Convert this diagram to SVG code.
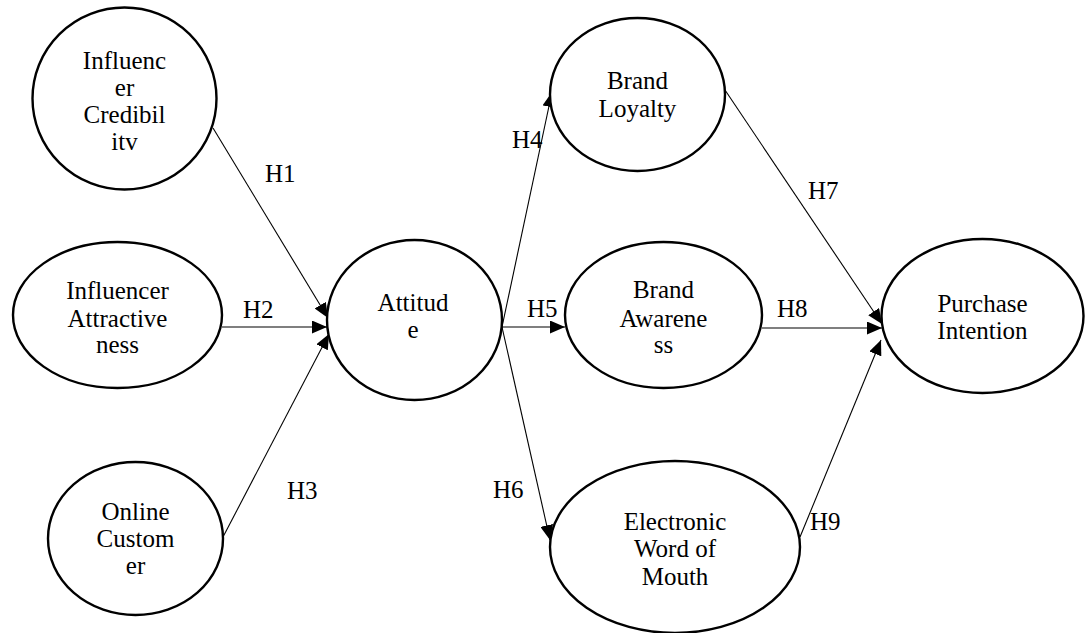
<svg xmlns="http://www.w3.org/2000/svg" width="1091" height="633" viewBox="0 0 1091 633" font-family="'Liberation Serif', 'Times New Roman', 'DejaVu Serif', serif">
<style>
.node ellipse{fill:#fff;stroke:#000;stroke-width:2.4}
text{font-family:'Liberation Serif','Times New Roman','DejaVu Serif',serif;font-size:25px;fill:#000}
.node text{text-anchor:middle}
.edges line{stroke:#000;stroke-width:1.1;marker-end:url(#ah)}
</style>
<defs>
<marker id="ah" markerUnits="userSpaceOnUse" markerWidth="15" markerHeight="13" refX="15" refY="6.5" orient="auto">
<path d="M0,0 L15,6.5 L0,13 z" fill="#000"/>
</marker>
</defs>
<rect width="1091" height="633" fill="#fff"/>
<g class="edges">
<line x1="213" y1="128" x2="328" y2="318"/>
<line x1="222" y1="327" x2="327" y2="327"/>
<line x1="223" y1="537" x2="329" y2="334"/>
<line x1="502" y1="327" x2="552" y2="92"/>
<line x1="502" y1="327" x2="565" y2="327"/>
<line x1="502" y1="327" x2="550" y2="540"/>
<line x1="725" y1="90" x2="882" y2="324"/>
<line x1="762" y1="328" x2="882" y2="328"/>
<line x1="800" y1="537" x2="881" y2="340"/>
</g>
<g class="labels">
<text x="265" y="182">H1</text>
<text x="243" y="318">H2</text>
<text x="287" y="499">H3</text>
<text x="512" y="148">H4</text>
<text x="527" y="317">H5</text>
<text x="493" y="498">H6</text>
<text x="808" y="199">H7</text>
<text x="777" y="317">H8</text>
<text x="810" y="530">H9</text>
</g>
<g id="influencer-credibility" class="node">
<ellipse cx="124.5" cy="98.5" rx="92" ry="91"/>
<text x="124.5" y="69">Influenc</text>
<text x="124.5" y="96">er</text>
<text x="124.5" y="123">Credibil</text>
<text x="124.5" y="150">itv</text>
</g>
<g id="influencer-attractiveness" class="node">
<ellipse cx="117.5" cy="315" rx="104.5" ry="73"/>
<text x="117.5" y="299">Influencer</text>
<text x="117.5" y="327">Attractive</text>
<text x="117.5" y="353">ness</text>
</g>
<g id="online-customer" class="node">
<ellipse cx="135.5" cy="538.5" rx="87.5" ry="76.5"/>
<text x="135.5" y="520">Online</text>
<text x="135.5" y="547">Custom</text>
<text x="135.5" y="574">er</text>
</g>
<g id="attitude" class="node">
<ellipse cx="414.5" cy="320" rx="87.5" ry="80"/>
<text x="413" y="311">Attitud</text>
<text x="413" y="338">e</text>
</g>
<g id="brand-loyalty" class="node">
<ellipse cx="637.5" cy="94.5" rx="87.5" ry="76.5"/>
<text x="637.5" y="89">Brand</text>
<text x="637.5" y="117">Loyalty</text>
</g>
<g id="brand-awareness" class="node">
<ellipse cx="663.5" cy="315" rx="98.5" ry="73"/>
<text x="663.5" y="298">Brand</text>
<text x="663.5" y="327">Awarene</text>
<text x="663.5" y="353">ss</text>
</g>
<g id="electronic-wom" class="node">
<ellipse cx="675" cy="547" rx="125" ry="86"/>
<text x="675" y="530">Electronic</text>
<text x="675" y="557">Word of</text>
<text x="675" y="585">Mouth</text>
</g>
<g id="purchase-intention" class="node">
<ellipse cx="982.5" cy="316" rx="101" ry="77"/>
<text x="982.5" y="312">Purchase</text>
<text x="982.5" y="339">Intention</text>
</g>
</svg>
